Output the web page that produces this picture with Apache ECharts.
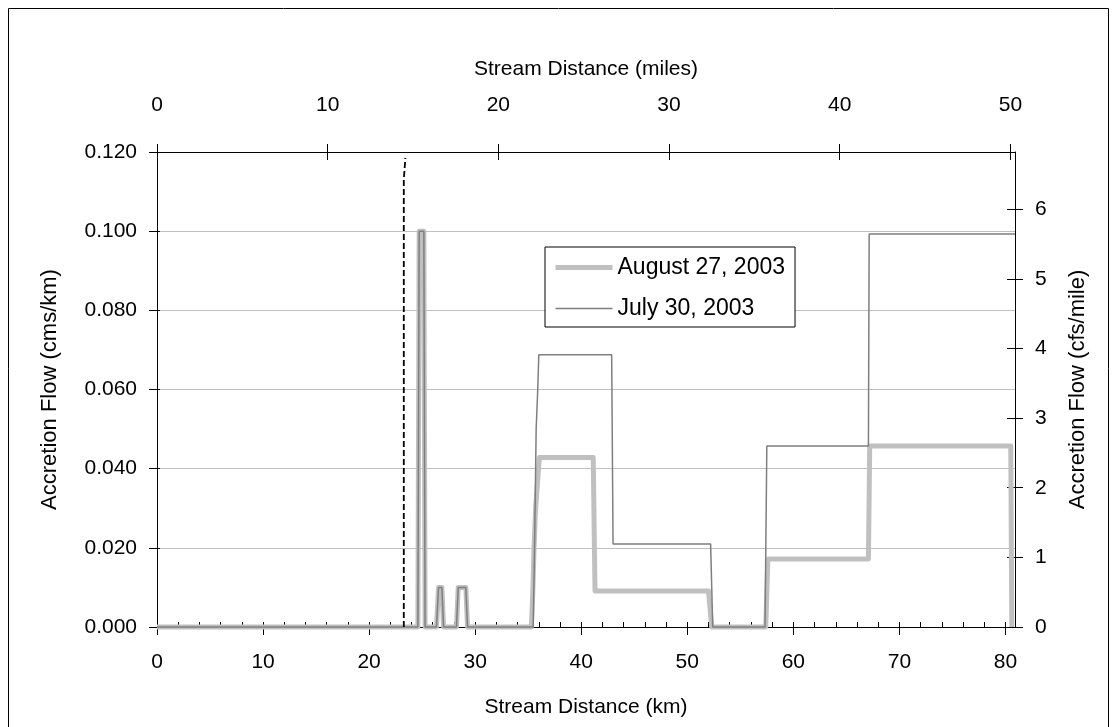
<!DOCTYPE html>
<html><head><meta charset="utf-8">
<script src="https://cdn.jsdelivr.net/npm/echarts@6/dist/echarts.min.js"></script>
<style>html,body{margin:0;padding:0;background:#fff}#c{width:1117px;height:727px}</style>
</head><body><div id="c"></div>
<script>
// ---- data (km, cms/km) ----
const augKm   = [0, 24.6, 24.72, 25.16, 25.28, 26.35, 26.55, 26.86, 27.02, 28.24, 28.4, 29.12, 29.28, 35.3, 35.45, 35.55, 35.7, 36.05, 41.13, 41.3, 52.0, 52.3, 57.4, 57.6, 67.08, 67.2, 80.5, 80.6];
const augFlow = [0, 0,    0.1,   0.1,   0,     0,     0.01,  0.01,  0,     0,     0.01, 0.01,  0,     0,    0.01,  0.02,  0.03, 0.0428, 0.0428, 0.0091, 0.0091, 0, 0, 0.0172, 0.0172, 0.0457, 0.0457, 0];
const julKm   = [0, 24.6, 24.72, 25.16, 25.28, 26.35, 26.55, 26.86, 27.02, 28.24, 28.4, 29.12, 29.28, 35.47, 35.6, 35.75, 35.9, 36.0, 42.87, 43.0, 52.2, 52.4, 57.33, 57.5, 67.08, 67.15, 80.9];
const julFlow = [0, 0,    0.1,   0.1,   0,     0,     0.01,  0.01,  0,     0,     0.01, 0.01,  0,     0,     0.02, 0.05,  0.06, 0.0688, 0.0688, 0.021, 0.021, 0, 0, 0.0457, 0.0457, 0.0993, 0.0993];
const dashKm   = [23.27, 23.27, 23.42];
const dashFlow = [0, 0.113, 0.1185];
const seriesNames = ['August 27, 2003', 'July 30, 2003'];

// tick values
const kmTicks   = [0, 10, 20, 30, 40, 50, 60, 70, 80];
const mileTicks = [0, 10, 20, 30, 40, 50];
const cfsTicks  = [0, 1, 2, 3, 4, 5, 6];

// axis ranges
const kmMax = 80.9;
const kmPerMile = 1.609344;
const cfsPerCmsKm = 56.834;
const flowMax = 0.12;

const FONT = '"Liberation Sans", Arial, sans-serif';
const pairs = (xs, ys) => xs.map((x, i) => [x, ys[i]]);
const black = '#000';
const gridRect = { left: 157, top: 152, width: 858, height: 475, containLabel: false };
const lbl = { fontFamily: FONT, fontSize: 21, color: '#000' };
const line = { show: true, onZero: false, lineStyle: { color: black, width: 1 } };
const noLine = { show: false, onZero: false };
const tick = (inside, length, customValues) => {
  const t = { show: true, inside, length, lineStyle: { color: black, width: 1 } };
  if (customValues) t.customValues = customValues;
  return t;
};

const chart = echarts.init(document.getElementById('c'));
chart.setOption({
  animation: false,
  backgroundColor: '#fff',
  textStyle: { fontFamily: FONT },
  graphic: [{ type: 'rect', shape: { x: 8.5, y: 8.5, width: 1100, height: 740 }, style: { fill: 'none', stroke: '#000', lineWidth: 1 }, silent: true }],
  grid: [Object.assign({}, gridRect), Object.assign({}, gridRect)],
  legend: {
    left: 545, top: 247, orient: 'vertical',
    data: [
      { name: seriesNames[0], lineStyle: { width: 5, color: '#c0c0c0' } },
      { name: seriesNames[1], lineStyle: { width: 1.5, color: '#7f7f7f' } }
    ],
    itemStyle: { opacity: 0 },
    backgroundColor: '#fff', borderColor: '#000', borderWidth: 1,
    padding: [9, 10, 7, 8], itemGap: 18, itemWidth: 57, itemHeight: 22,
    textStyle: { fontFamily: FONT, fontSize: 23, color: '#000' }
  },
  xAxis: [
    { gridIndex: 0, type: 'value', position: 'bottom', min: 0, max: kmMax,
      name: 'Stream Distance (km)', nameLocation: 'middle', nameGap: 70,
      nameTextStyle: { fontFamily: FONT, fontSize: 21, color: '#000' },
      axisLine: line, axisTick: tick(false, 8, kmTicks),
      axisLabel: Object.assign({ margin: 25, customValues: kmTicks, formatter: v => String(v) }, lbl),
      splitLine: { show: false } },
    { gridIndex: 0, type: 'value', position: 'top', min: 0, max: kmMax / kmPerMile,
      name: 'Stream Distance (miles)', nameLocation: 'middle', nameGap: 72,
      nameTextStyle: { fontFamily: FONT, fontSize: 21, color: '#000' },
      axisLine: line, axisTick: tick(false, 8, mileTicks),
      axisLabel: Object.assign({ margin: 36, customValues: mileTicks, formatter: v => String(v) }, lbl),
      splitLine: { show: false } },
    { gridIndex: 1, type: 'value', position: 'bottom', min: 0, max: kmMax, interval: 2,
      axisLine: noLine, axisLabel: { show: false }, splitLine: { show: false }, axisTick: tick(true, 5) },
    { gridIndex: 1, type: 'value', position: 'top', min: 0, max: kmMax / kmPerMile,
      axisLine: noLine, axisLabel: { show: false }, splitLine: { show: false }, axisTick: tick(true, 8, mileTicks) }
  ],
  yAxis: [
    { gridIndex: 0, type: 'value', position: 'left', min: 0, max: flowMax, interval: 0.02,
      name: 'Accretion Flow (cms/km)', nameLocation: 'middle', nameGap: 96, nameRotate: 90,
      nameTextStyle: { fontFamily: FONT, fontSize: 22, color: '#000' },
      axisLine: line, axisTick: tick(false, 8),
      axisLabel: Object.assign({ margin: 20, formatter: v => v.toFixed(3) }, lbl),
      splitLine: { show: true, lineStyle: { color: '#c0c0c0', width: 1 } } },
    { gridIndex: 0, type: 'value', position: 'right', min: 0, max: flowMax * cfsPerCmsKm,
      name: 'Accretion Flow (cfs/mile)', nameLocation: 'middle', nameGap: 52, nameRotate: 90,
      nameTextStyle: { fontFamily: FONT, fontSize: 22, color: '#000' },
      axisLine: line, axisTick: tick(false, 8, cfsTicks),
      axisLabel: Object.assign({ margin: 20, customValues: cfsTicks, formatter: v => String(v) }, lbl),
      splitLine: { show: false } },
    { gridIndex: 1, type: 'value', position: 'left', min: 0, max: flowMax, interval: 0.02,
      axisLine: noLine, axisLabel: { show: false }, splitLine: { show: false }, axisTick: tick(true, 3) },
    { gridIndex: 1, type: 'value', position: 'right', min: 0, max: flowMax * cfsPerCmsKm,
      axisLine: noLine, axisLabel: { show: false }, splitLine: { show: false }, axisTick: tick(true, 8, cfsTicks) }
  ],
  series: [
    { name: seriesNames[0], type: 'line', xAxisIndex: 0, yAxisIndex: 0,
      data: pairs(augKm, augFlow), symbol: 'none', showSymbol: false, clip: false,
      lineStyle: { color: '#c0c0c0', width: 5, join: 'round' }, itemStyle: { color: '#c0c0c0' }, z: 3 },
    { name: seriesNames[1], type: 'line', xAxisIndex: 0, yAxisIndex: 0,
      data: pairs(julKm, julFlow), symbol: 'none', showSymbol: false, clip: false,
      lineStyle: { color: '#7f7f7f', width: 1.5 }, itemStyle: { color: '#7f7f7f' }, z: 4 },
    { name: 'divide', type: 'line', xAxisIndex: 0, yAxisIndex: 0,
      data: pairs(dashKm, dashFlow), symbol: 'none', showSymbol: false, clip: false,
      lineStyle: { color: '#000', width: 1.8, type: [6, 3] }, z: 5 }
  ]
});
</script></body></html>
